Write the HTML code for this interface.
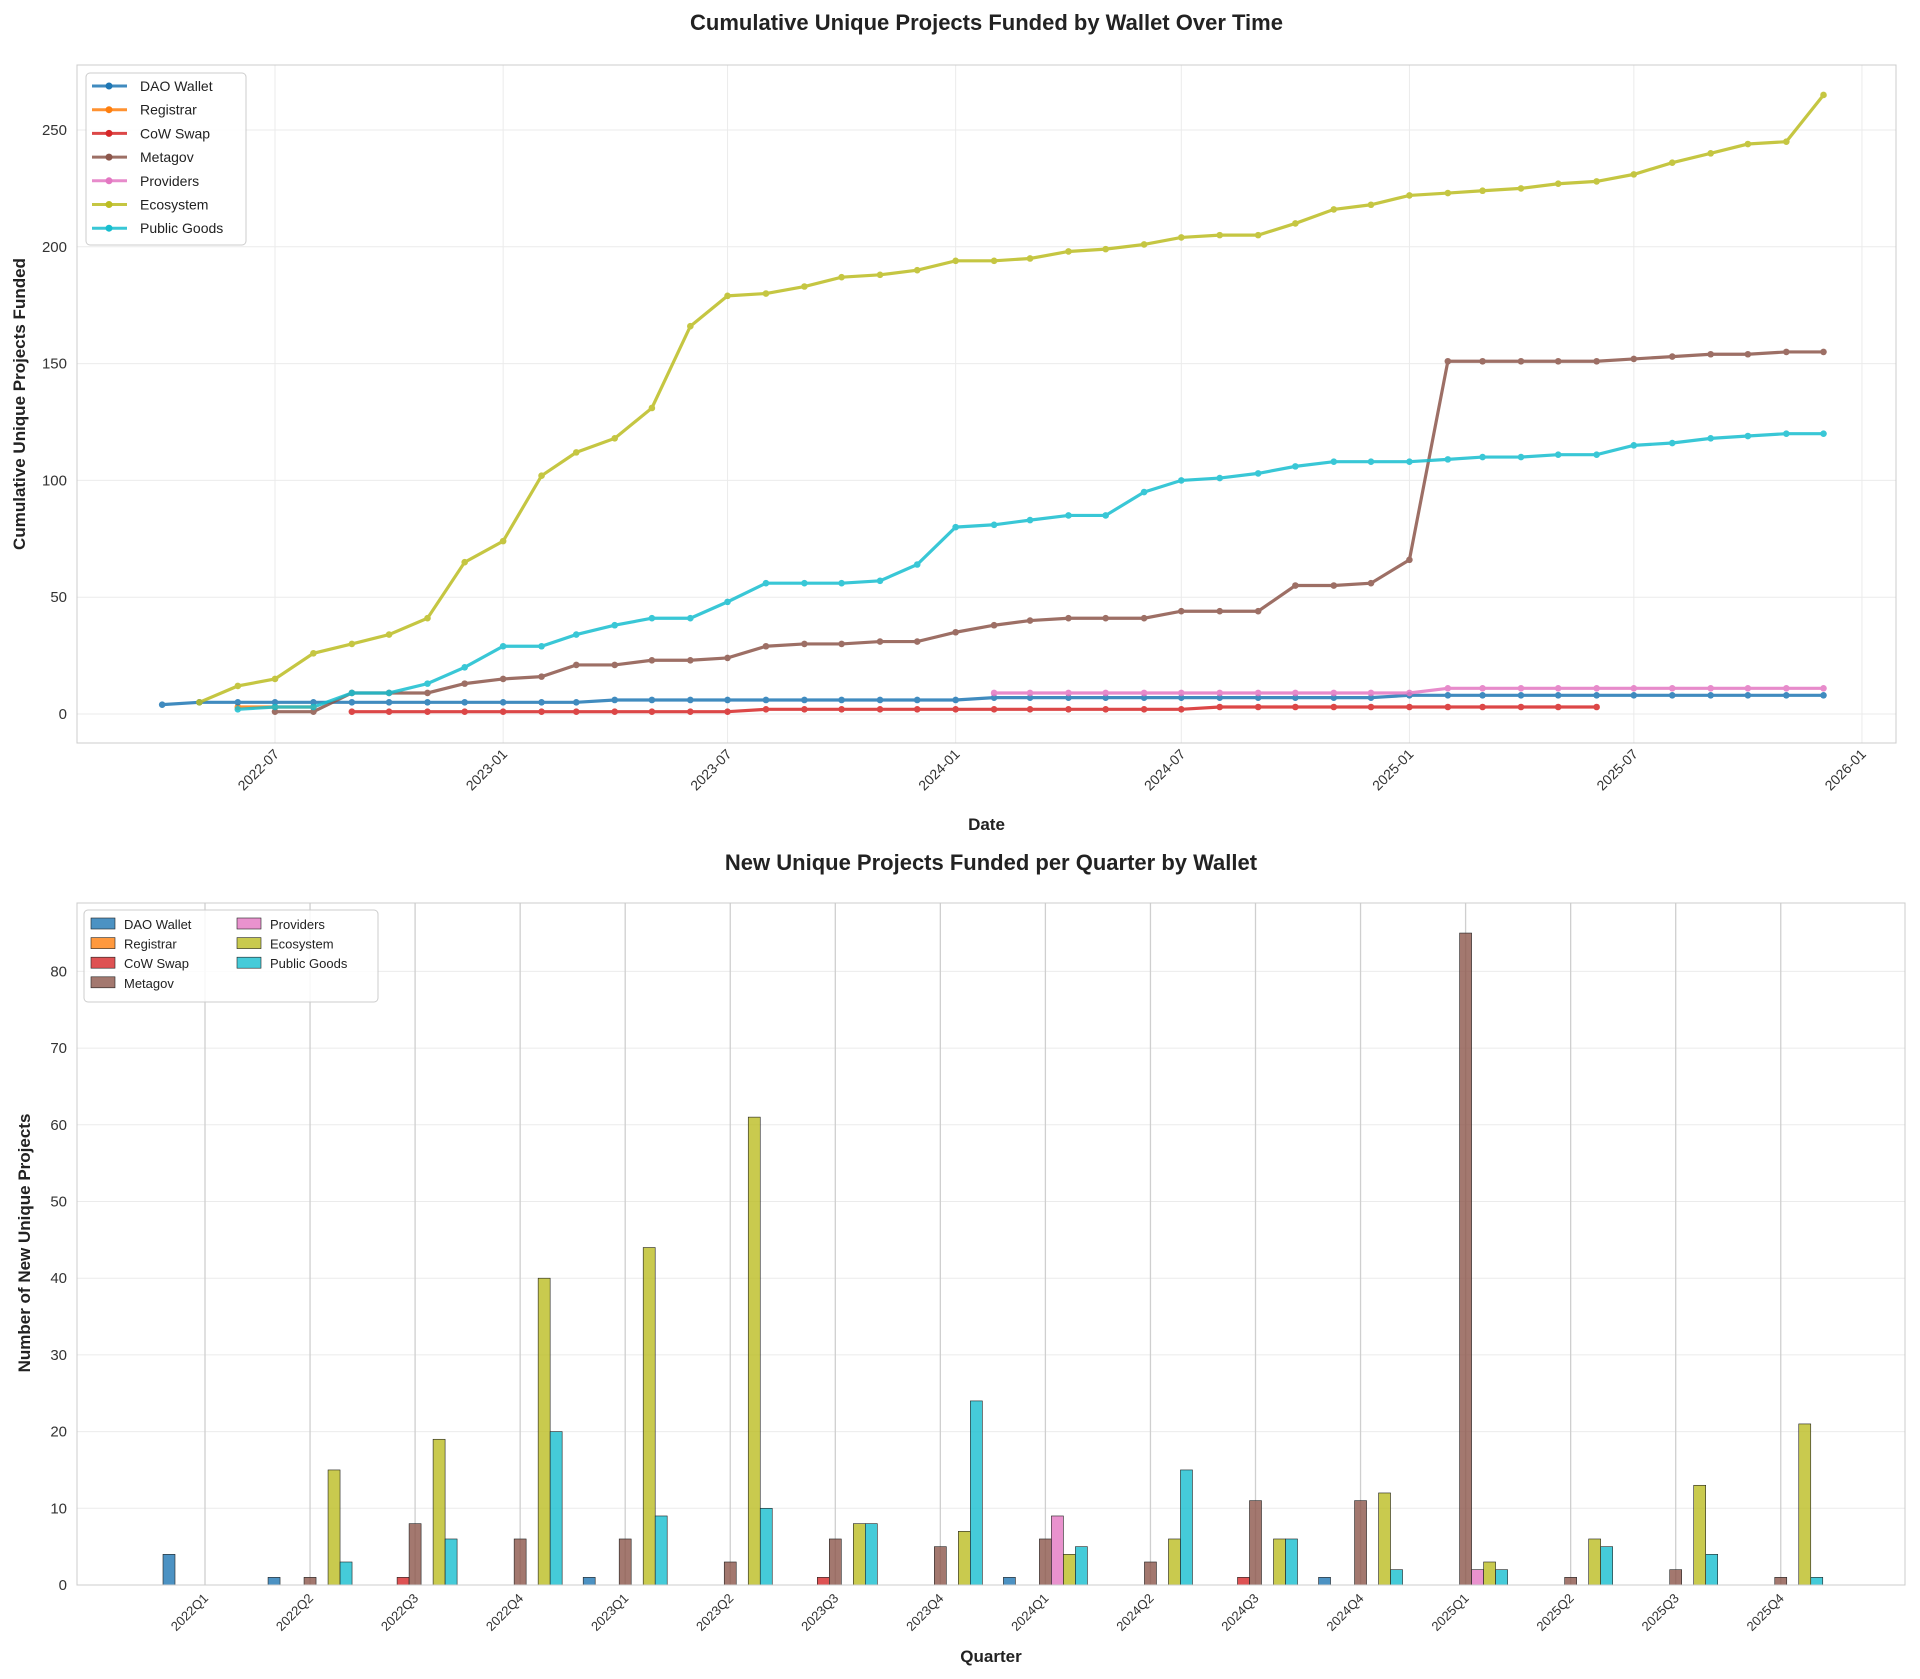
<!DOCTYPE html>
<html><head><meta charset="utf-8"><style>body{margin:0;background:#fff}svg{display:block;font-family:"Liberation Sans",sans-serif}</style></head>
<body><svg id="s" width="1920" height="1679" xmlns="http://www.w3.org/2000/svg"></svg>
<script>
const S=document.getElementById('s');let h='';
const C=['#1f77b4','#ff7f0e','#d62728','#8c564b','#e377c2','#bcbd22','#17becf'];
const N=['DAO Wallet','Registrar','CoW Swap','Metagov','Providers','Ecosystem','Public Goods'];
const L=77,R=1896,T=65,B=743;
const y1=v=>714-v*2.336;
const d0=Date.UTC(2022,6,1);
const x1=(y,m)=>275+(Date.UTC(y,m-1,1)-d0)/864e5*1.2398;
h+=`<text x="${(L+R)/2}" y="30" font-size="22" font-weight="bold" text-anchor="middle" fill="#222">Cumulative Unique Projects Funded by Wallet Over Time</text>`;
for(let v=0;v<=250;v+=50){h+=`<line x1="${L}" x2="${R}" y1="${y1(v)}" y2="${y1(v)}" stroke="#ebebeb"/><text x="${L-10}" y="${y1(v)+5}" font-size="15" text-anchor="end" fill="#333">${v}</text>`;}
const xt=[[2022,7],[2023,1],[2023,7],[2024,1],[2024,7],[2025,1],[2025,7],[2026,1]];
xt.forEach(([y,m])=>{const x=x1(y,m);h+=`<line x1="${x}" x2="${x}" y1="${T}" y2="${B}" stroke="#ebebeb"/><text transform="translate(${x+5},${B+12}) rotate(-45)" font-size="14" text-anchor="end" fill="#333">${y}-${String(m).padStart(2,'0')}</text>`;});
h+=`<rect x="${L}" y="${T}" width="${R-L}" height="${B-T}" fill="none" stroke="#ccc"/>`;
h+=`<text x="${(L+R)/2}" y="830" font-size="17" font-weight="bold" text-anchor="middle" fill="#222">Date</text>`;
h+=`<text transform="translate(25,404) rotate(-90)" font-size="17" font-weight="bold" text-anchor="middle" fill="#222">Cumulative Unique Projects Funded</text>`;
function ser(sy,sm,vals){return vals.map((v,i)=>{let m=sm+i-1;return [x1(sy+Math.floor(m/12),m%12+1),y1(v)];});}
const rep=(v,n)=>Array(n).fill(v);
const S_={
0:ser(2022,4,[4,...rep(5,11),...rep(6,10),...rep(7,11),...rep(8,12)]),
2:ser(2022,9,[...rep(1,11),...rep(2,12),...rep(3,11)]),
3:ser(2022,7,[1,1,9,9,9,13,15,16,21,21,23,23,24,29,30,30,31,31,35,38,40,41,41,41,44,44,44,55,55,56,66,151,151,151,151,151,152,153,154,154,155,155]),
4:ser(2024,2,[...rep(9,12),...rep(11,11)]),
5:ser(2022,5,[5,12,15,26,30,34,41,65,74,102,112,118,131,166,179,180,183,187,188,190,194,194,195,198,199,201,204,205,205,210,216,218,222,223,224,225,227,228,231,236,240,244,245,265]),
6:ser(2022,6,[2,3,3,9,9,13,20,29,29,34,38,41,41,48,56,56,56,57,64,80,81,83,85,85,95,100,101,103,106,108,108,108,109,110,110,111,111,115,116,118,119,120,120]),
1:ser(2022,6,[3,3,3])};
[1,0,2,3,4,5,6].forEach(k=>{const p=S_[k];h+=`<g opacity="0.85"><polyline fill="none" stroke="${C[k]}" stroke-width="3.2" points="${p.map(q=>q.join(',')).join(' ')}"/>`;p.forEach(q=>h+=`<circle cx="${q[0]}" cy="${q[1]}" r="3.3" fill="${C[k]}"/>`);h+='</g>';});
h+=`<rect x="86" y="73" width="160" height="172" rx="4" fill="#fff" fill-opacity="0.85" stroke="#ccc"/>`;
N.forEach((n,i)=>{const y=86+i*23.7;h+=`<line x1="92" x2="127" y1="${y}" y2="${y}" stroke="${C[i]}" stroke-width="3" opacity="0.85"/><circle cx="109" cy="${y}" r="3.5" fill="${C[i]}"/><text x="140" y="${y+5}" font-size="14" fill="#222">${n}</text>`;});
const L2=77,R2=1905,T2=903,B2=1585;const y2=v=>B2-v*7.67;
h+=`<text x="${(L2+R2)/2}" y="870" font-size="22" font-weight="bold" text-anchor="middle" fill="#222">New Unique Projects Funded per Quarter by Wallet</text>`;
for(let v=0;v<=80;v+=10){h+=`<line x1="${L2}" x2="${R2}" y1="${y2(v)}" y2="${y2(v)}" stroke="#ebebeb"/><text x="${L2-10}" y="${y2(v)+5}" font-size="15" text-anchor="end" fill="#333">${v}</text>`;}
const Q=['2022Q1','2022Q2','2022Q3','2022Q4','2023Q1','2023Q2','2023Q3','2023Q4','2024Q1','2024Q2','2024Q3','2024Q4','2025Q1','2025Q2','2025Q3','2025Q4'];
const D=[[4,0,0,0,0,0,0],[1,0,0,1,0,15,3],[0,0,1,8,0,19,6],[0,0,0,6,0,40,20],[1,0,0,6,0,44,9],[0,0,0,3,0,61,10],[0,0,1,6,0,8,8],[0,0,0,5,0,7,24],[1,0,0,6,9,4,5],[0,0,0,3,0,6,15],[0,0,1,11,0,6,6],[1,0,0,11,0,12,2],[0,0,0,85,2,3,2],[0,0,0,1,0,6,5],[0,0,0,2,0,13,4],[0,0,0,1,0,21,1]];
Q.forEach((q,i)=>{const c=205+i*105.05;h+=`<line x1="${c}" x2="${c}" y1="${T2}" y2="${B2}" stroke="#cfcfcf" stroke-width="1.3"/><text transform="translate(${c+4},${B2+14}) rotate(-45)" font-size="13" text-anchor="end" fill="#333">${q}</text>`;
D[i].forEach((v,k)=>{if(v>0){const x=c+(k-3)*12-6;h+=`<rect x="${x}" y="${y2(v)}" width="12" height="${v*7.67}" fill="${C[k]}" fill-opacity="0.8" stroke="#222" stroke-width="0.6"/>`;}});});
h+=`<rect x="${L2}" y="${T2}" width="${R2-L2}" height="${B2-T2}" fill="none" stroke="#ccc"/>`;
h+=`<text x="${(L2+R2)/2}" y="1662" font-size="17" font-weight="bold" text-anchor="middle" fill="#222">Quarter</text>`;
h+=`<text transform="translate(30,1243) rotate(-90)" font-size="17" font-weight="bold" text-anchor="middle" fill="#222">Number of New Unique Projects</text>`;
h+=`<rect x="84" y="910" width="294" height="92" rx="4" fill="#fff" fill-opacity="0.85" stroke="#ccc"/>`;
N.forEach((n,i)=>{const col=i<4?0:1,r=i<4?i:i-4;const x=91+col*146,y=924+r*19.6;h+=`<rect x="${x}" y="${y-6}" width="24" height="11" fill="${C[i]}" fill-opacity="0.8" stroke="#222" stroke-width="0.6"/><text x="${x+33}" y="${y+5}" font-size="13" fill="#222">${n}</text>`;});
S.innerHTML=h;
</script></body></html>
